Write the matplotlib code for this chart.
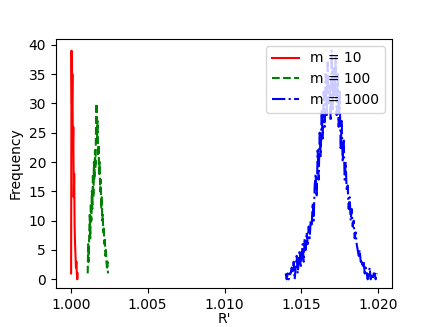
import numpy as np
import matplotlib
matplotlib.use("Agg")
import matplotlib.pyplot as plt

# m = 10 histogram (bin centres span, frequencies)
r10_range = (1.00002, 1.00045)
f10 = [1, 39, 30, 35, 22, 26, 14, 18, 9, 6, 4, 2, 3, 1, 0, 1]

# m = 100
r100_range = (1.00110, 1.00242)
f100 = [1, 6, 3, 8, 11, 7, 13, 10, 15, 12, 18, 14, 20, 17, 22, 19, 26, 30, 24, 27,
        21, 23, 18, 20, 15, 17, 12, 14, 10, 11, 8, 9, 6, 7, 4, 5, 3, 2, 3, 1]

# m = 1000
r1000_range = (1.01398, 1.01990)
f1000 = [1, 0, 1, 0, 1, 1,
         2, 1, 3, 0, 2, 4, 1, 3, 5, 2,
         4, 6, 3, 7, 5, 8, 6, 9, 7, 10,
         9, 13, 10, 16, 18, 14, 22, 17, 25, 21,
         29, 24, 32, 26, 35, 28, 37, 30, 33, 27,
         39, 29, 36, 31, 38, 28, 35, 26, 32, 22,
         27, 20, 24, 17, 20, 15, 16, 12, 14, 10,
         12, 9, 10, 7, 8, 6, 5, 4, 5, 3,
         3, 2, 3, 1, 2, 1, 0, 1, 2, 0,
         1, 0, 1, 1, 0, 1]

yticks = [0, 5, 10, 15, 20, 25, 30, 35, 40]

fig, ax = plt.subplots(figsize=(4.36, 3.27), dpi=100)
fig.subplots_adjust(left=0.128, right=0.899, top=0.881, bottom=0.119)
for rng, f, style, col, lab in [
    (r10_range, f10, '-', 'red', 'm = 10'),
    (r100_range, f100, '--', 'green', 'm = 100'),
    (r1000_range, f1000, '-.', 'blue', 'm = 1000'),
]:
    x = np.linspace(rng[0], rng[1], len(f))
    ax.plot(x, f, style, color=col, label=lab)

ax.set_ylim(-1.5, 41)
ax.set_yticks(yticks)
ax.set_xlabel("R'", labelpad=0)
ax.set_ylabel("Frequency")
ax.legend(loc='upper right')
fig.savefig("out.png", dpi=100)
